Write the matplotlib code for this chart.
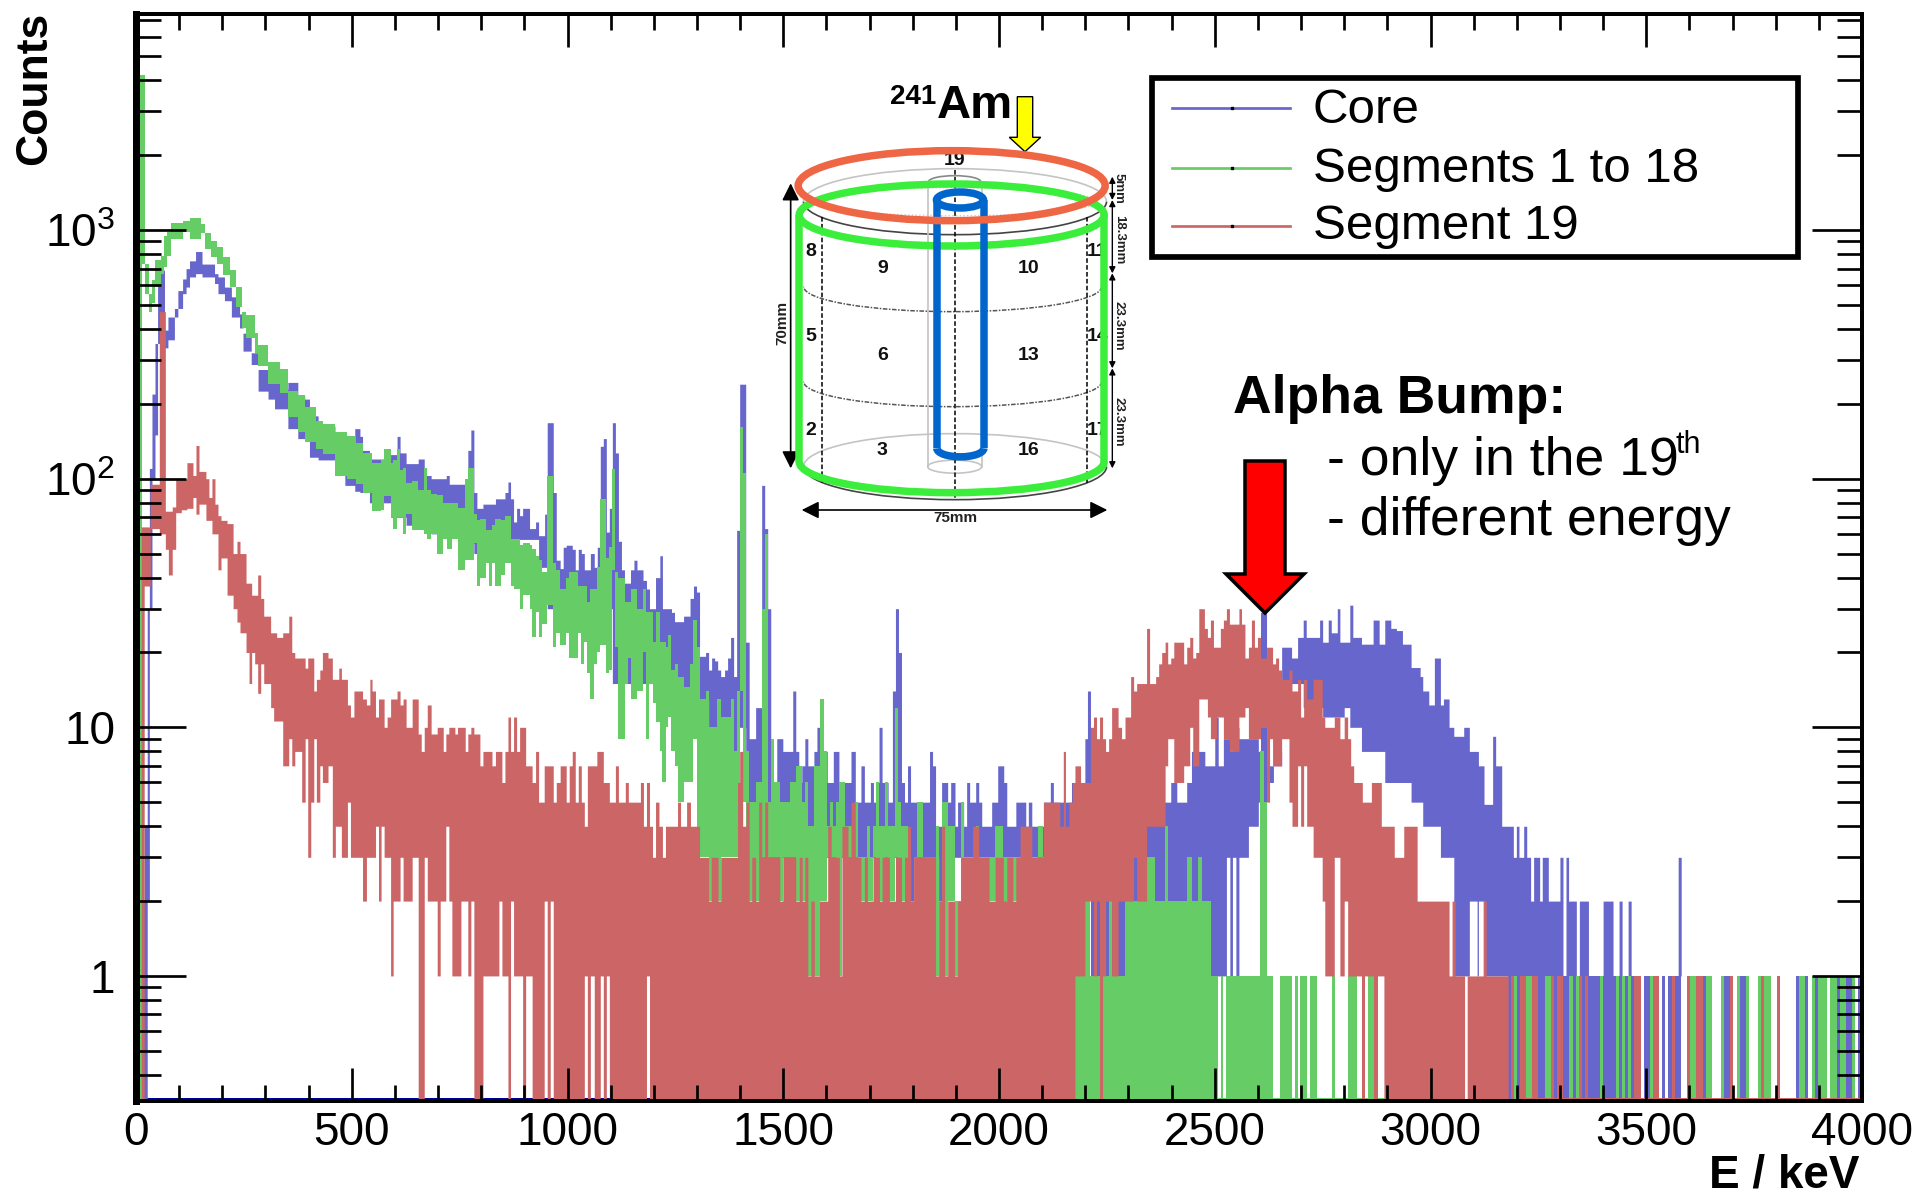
"""Energy spectra of a segmented detector: core, segments 1-18 and segment 19."""

import matplotlib

matplotlib.use("Agg")
import matplotlib.pyplot as plt
import numpy as np
from matplotlib.lines import Line2D
from matplotlib.patches import Arc, Ellipse, Polygon, Rectangle
from matplotlib.ticker import FixedLocator, NullFormatter

plt.rcParams["font.family"] = ["Liberation Sans", "DejaVu Sans"]
plt.rcParams["mathtext.fontset"] = "custom"
plt.rcParams["mathtext.rm"] = "Liberation Sans"

PX = 0.72  # points per pixel at dpi 100
Y_MIN, Y_MAX = 0.314, 7400
COLORS = {"core": "#6666cc", "seg": "#66cc66", "s19": "#cc6666"}

# rows: start energy (keV), upper count, lower count; a row ends where the next starts
CORE = [
    (16, 2, 0), (19, 4, 0), (26, 30, 2), (31, 110, 30), (37, 219, 100), (44, 350, 150), (50, 690, 350),
    (66, 396, 336), (74, 447, 362), (89, 484, 447), (97, 571, 484), (108, 636, 555), (116, 700, 590),
    (124, 752, 648), (138, 820, 668), (153, 730, 648), (182, 668, 610), (190, 648, 555), (205, 590, 520),
    (221, 539, 447), (240, 460, 404), (248, 385, 326), (267, 321, 288), (283, 275, 225), (306, 259, 209),
    (321, 244, 191), (333, 229, 191), (352, 244, 159), (375, 215, 145), (391, 209, 145), (402, 179, 122),
    (422, 163, 119), (461, 154, 103), (484, 149, 94), (507, 159, 89), (519, 148, 88), (525, 130, 88),
    (541, 120, 80), (590, 125, 70), (605, 148, 70), (612, 127, 70), (626, 115, 65), (654, 120, 65),
    (668, 103, 65), (684, 100, 60), (712, 100, 60), (719, 103, 60), (726, 95, 60), (769, 130, 55),
    (776, 157, 55), (783, 88, 50), (790, 76, 50), (804, 79, 62), (833, 83, 55), (855, 88, 55), (862, 97, 55),
    (868, 83, 57), (875, 67, 57), (882, 76, 57), (889, 71, 57), (896, 76, 57), (912, 63, 57), (926, 67, 57),
    (933, 59, 44), (947, 72, 44), (953, 168, 30), (967, 88, 30), (974, 47, 30), (983, 43.5, 30), (990, 53, 30),
    (997, 54, 30), (1011, 52, 30), (1018, 43, 30), (1025, 52, 30), (1032, 50, 30), (1039, 43, 30), (1053, 50, 30),
    (1062, 44, 30), (1069, 53, 30), (1076, 135, 30), (1083, 145, 30), (1090, 61, 30), (1097, 76, 30),
    (1104, 168, 15), (1111, 127, 15), (1118, 56, 15), (1125, 43, 15), (1132, 38, 15), (1146, 43, 15),
    (1154, 47, 15), (1161, 43, 15), (1175, 39, 15), (1183, 36, 15), (1190, 30, 15), (1204, 40, 15), (1214, 49, 15),
    (1220, 30, 15), (1241, 29, 15), (1248, 26.6, 10), (1269, 28, 10), (1284, 33, 10), (1292, 37, 10), (1299, 35, 10),
    (1306, 19.3, 13), (1320, 20, 13), (1327, 17, 10), (1334, 19, 10), (1341, 18.5, 10), (1348, 17, 10),
    (1355, 16, 11), (1364, 17, 11), (1371, 19, 11), (1378, 23, 8), (1385, 16, 8), (1392, 62, 10), (1399, 240, 10),
    (1413, 22, 3), (1421, 9, 3), (1436, 12, 3), (1450, 94, 3), (1457, 63, 3), (1464, 30, 3), (1471, 6, 3),
    (1485, 9, 3), (1499, 8, 3), (1522, 14, 3), (1529, 8, 3), (1536, 6, 3), (1543, 7, 3), (1550, 9, 3), (1557, 7, 3),
    (1571, 8, 3), (1578, 10, 3), (1585, 7, 3), (1595, 8, 3), (1602, 6, 3), (1616, 8, 3), (1629, 6, 3), (1657, 8, 3),
    (1667, 5, 3), (1680, 7, 3), (1688, 5, 3), (1702, 6, 3), (1709, 5, 3), (1715, 6, 3), (1722, 10, 3), (1729, 6, 3),
    (1743, 5, 3), (1753, 14, 3), (1760, 30, 3), (1767, 20, 3), (1774, 6, 3), (1781, 5, 3), (1788, 7, 3), (1795, 5, 2),
    (1802, 5, 3), (1839, 8, 3), (1846, 7, 3), (1853, 4, 3), (1860, 4, 2), (1867, 6, 3), (1881, 5, 3), (1888, 6, 3),
    (1898, 4, 3), (1904, 5, 3), (1911, 5, 3), (1918, 4, 3), (1925, 6, 3), (1932, 5, 3), (1946, 6, 3), (1953, 5, 3),
    (1960, 4, 3), (1983, 5, 3), (1997, 7, 3), (2011, 6, 3), (2018, 4, 3), (2039, 5, 3), (2062, 4, 3), (2068, 5, 3),
    (2076, 4, 3), (2103, 5, 3), (2119, 6, 3), (2126, 5, 3), (2168, 6, 3), (2199, 9, 3), (2205, 14, 3), (2212, 5, 1),
    (2377, 5, 2), (2398, 6, 1), (2412, 5, 1), (2435, 6, 1), (2446, 8, 1), (2477, 7, 1), (2500, 11, 1), (2508, 7, 1),
    (2520, 9, 1), (2527, 9, 3), (2535, 8, 1), (2541, 10, 3), (2549, 10, 1), (2556, 9, 3), (2578, 9, 4), (2601, 8, 5),
    (2606, 29, 5), (2620, 7, 6), (2636, 10, 7), (2641, 8, 7), (2655, 21, 15), (2678, 19, 15), (2692, 23, 15),
    (2705, 27, 12), (2712, 23, 12), (2743, 27, 12), (2750, 22, 11), (2763, 27, 11), (2770, 24, 11), (2784, 30, 11),
    (2790, 22, 11), (2800, 22, 12), (2813, 31, 10), (2820, 23, 10), (2840, 21.6, 8), (2867, 27, 8), (2881, 21.6, 8),
    (2894, 27, 6), (2908, 25, 6), (2921, 24.5, 6), (2935, 21.6, 6), (2955, 17.4, 5), (2976, 16, 5), (2982, 14, 4),
    (2996, 12.3, 4), (3009, 19, 4), (3023, 12.3, 3), (3030, 13, 3), (3043, 10, 3), (3054, 9.2, 1), (3077, 10, 1),
    (3090, 8, 2), (3108, 8, 1), (3111, 7, 2), (3124, 4.9, 1), (3144, 9.2, 1), (3151, 7, 1), (3165, 4, 1), (3192, 3, 1),
    (3199, 4, 1), (3205, 3, 1), (3216, 4, 1), (3223, 3, 1), (3232, 2, 1), (3239, 3, 1), (3253, 2, 1), (3259, 3, 1),
    (3273, 2, 1), (3300, 3, 1), (3307, 1, 1), (3314, 3, 1),
    (3320, 2, 1), (3338, 1, 1), (3345, 2, 1), (3366, 1, 1), (3400, 2, 1), (3423, 1, 1), (3437, 2, 1), (3444, 1, 1),
    (3458, 2, 1), (3465, 1, 1), (3574, 3, 1), (3581, 1, 1), (3997, 1, 1),
]

SEGMENTS = [
    (8, 4200, 0), (15, 4200, 730), (22, 730, 555), (29, 555, 470), (36, 630, 510), (44, 755, 590), (58, 785, 668),
    (66, 950, 710), (71, 980, 790), (81, 1070, 920), (108, 1090, 980), (124, 1122, 920), (151, 1054, 976),
    (160, 976, 840), (174, 907, 780), (188, 853, 730), (201, 780, 658), (217, 688, 590), (232, 590, 492),
    (245, 469, 404), (255, 456, 368), (275, 385, 321), (283, 346, 283), (306, 296, 240), (333, 275, 222),
    (352, 225, 177), (375, 218, 154), (391, 194, 140), (418, 171, 132), (433, 166, 126), (461, 154, 103),
    (490, 148, 100), (511, 139, 95), (525, 127, 88), (547, 116, 74), (568, 119, 75), (575, 132, 85), (590, 116, 70),
    (596, 119, 63), (605, 132, 70), (612, 108, 70), (619, 110, 60), (626, 96, 72), (640, 98, 62), (654, 90, 62),
    (668, 110, 60), (675, 90, 57), (684, 87, 60), (698, 86, 50), (712, 80, 57), (720, 80, 52), (732, 80, 57),
    (746, 76, 43), (763, 100, 47), (769, 110, 47), (783, 72, 55), (790, 68, 37), (797, 69, 40), (811, 62, 46),
    (818, 62, 37), (825, 65, 46), (833, 69, 37), (847, 68, 41), (855, 71, 46), (868, 57, 37), (875, 57, 36),
    (889, 54, 30), (896, 55, 34), (912, 54, 30), (918, 52, 23), (926, 49, 29), (933, 47, 23), (940, 42, 26),
    (953, 103, 31), (967, 46, 21), (974, 43, 24), (983, 36, 21.5), (997, 40, 24), (1004, 42, 19), (1025, 37, 24),
    (1032, 37, 18), (1039, 37, 22), (1046, 32, 16.5), (1053, 36, 13), (1062, 36, 18), (1069, 44, 20), (1076, 83, 21.5),
    (1090, 48, 16.5), (1097, 53, 17), (1104, 109, 43), (1111, 42, 21), (1118, 40, 9), (1133, 32, 15), (1140, 32, 19),
    (1147, 36, 13), (1161, 30, 14), (1175, 36, 20), (1183, 29, 9), (1190, 29, 15), (1197, 22, 12.5), (1204, 29, 10.5),
    (1214, 22, 8), (1220, 22, 6), (1228, 21, 10), (1234, 23.5, 11), (1241, 17, 8), (1248, 18, 7), (1255, 16, 5),
    (1269, 14.5, 6), (1284, 18, 6), (1291, 27, 9), (1299, 21, 3), (1306, 13, 3), (1320, 14, 3), (1327, 10, 2),
    (1347, 13, 2), (1355, 11, 3), (1378, 13, 3), (1385, 8, 3), (1392, 14, 3), (1399, 162, 14), (1406, 105, 5),
    (1413, 8, 4), (1421, 5, 2), (1436, 6, 2), (1450, 30, 3), (1457, 60, 3), (1464, 5, 3), (1471, 9, 3), (1478, 6, 3),
    (1492, 5, 2), (1499, 5, 3), (1515, 6, 3), (1529, 7, 2), (1543, 5, 2), (1550, 6, 2), (1557, 4, 1), (1571, 7, 1),
    (1585, 13, 2), (1595, 8, 2), (1602, 4, 3), (1609, 5, 3), (1616, 4, 3), (1622, 5, 2), (1629, 6, 1), (1636, 6, 3),
    (1643, 4, 3), (1667, 5, 3), (1674, 3, 2), (1695, 4, 2), (1702, 3, 2), (1709, 4, 3), (1715, 6, 2), (1722, 4, 2),
    (1736, 6, 3), (1743, 4, 2), (1760, 12, 3), (1767, 5, 2), (1774, 4, 2), (1788, 3, 3), (1809, 5, 3), (1825, 3, 3),
    (1853, 4, 1), (1860, 3, 3), (1867, 5, 1), (1881, 4, 2), (1898, 2, 1), (1911, 5, 2), (1918, 3, 2), (1946, 4, 1),
    (1953, 3, 2), (1991, 4, 2), (2004, 4, 1), (2010, 3, 1), (2018, 3, 2), (2090, 4, 3), (2103, 3, 2), (2176, 1, 1),
    (2199, 2, 1), (2205, 3, 1), (2212, 1, 1), (2242, 2, 1), (2247, 1, 1), (2254, 2, 1), (2261, 1, 1), (2292, 4, 1),
    (2300, 2, 1), (2334, 3, 1), (2361, 2, 1), (2385, 4, 1), (2391, 2, 1), (2435, 3, 1), (2448, 2, 1), (2462, 3, 1),
    (2470, 2, 1), (2491, 1, 1), (2606, 8, 1), (2613, 5, 1), (2620, 1, 1),
]

SEGMENT_19 = [
    (12, 64, 0), (19, 64, 37), (33, 95, 63), (54, 470, 60), (68, 74, 52), (75, 74, 41), (84, 77, 52), (92, 100, 73),
    (105, 100, 75), (118, 116, 76), (132, 103, 84), (139, 136, 72), (146, 107, 79), (162, 100, 68), (169, 84, 68),
    (176, 100, 60), (183, 79, 60), (190, 71, 43), (197, 68, 48), (211, 66, 34), (225, 50, 30), (234, 56, 26.5),
    (241, 50, 24), (255, 38, 20), (262, 38, 15), (268, 34, 20), (275, 34, 18), (282, 41, 13.7), (289, 33, 18),
    (296, 28, 15), (312, 24, 12), (319, 24, 10.6), (326, 23, 10.6), (340, 24, 7), (354, 28, 9), (361, 20, 7),
    (368, 19, 8), (384, 19, 5), (392, 17.3, 9), (398, 19, 3), (405, 19, 5), (412, 14, 9), (418, 15.6, 5), (426, 17, 7),
    (432, 20, 6), (445, 19, 7), (455, 15.6, 3), (462, 15.6, 4), (470, 17.3, 4), (476, 15.6, 3), (490, 12.3, 5),
    (497, 11, 3), (505, 14, 3), (525, 13, 2), (534, 12.3, 3), (542, 15.6, 3), (547, 14, 3), (555, 11, 4), (562, 13, 2),
    (568, 13, 4), (575, 10, 3), (582, 11, 3), (590, 13, 1), (596, 13, 2), (605, 14, 2), (612, 12.3, 3), (619, 13, 2),
    (626, 10, 2), (640, 13, 3), (654, 9.4, 0), (661, 8, 0), (668, 10, 3), (675, 12.3, 2), (684, 9.4, 2), (698, 10, 1),
    (705, 10, 2), (712, 8, 2), (718, 9.4, 4), (725, 10, 2), (732, 10, 1), (739, 9.4, 1), (745, 10, 1), (753, 10, 2),
    (763, 8, 2), (769, 9.4, 1), (776, 10, 2), (783, 9.4, 0), (797, 7, 0), (804, 8, 1), (825, 7, 1), (833, 8, 1),
    (841, 8, 2), (848, 6, 1), (855, 8, 1), (862, 11, 0), (868, 8, 2), (875, 11, 1), (882, 8, 1), (889, 10, 1),
    (896, 10, 0), (903, 7, 1), (918, 6, 0), (926, 8, 0), (933, 5, 0), (946, 7, 2), (953, 7, 0), (960, 7, 2),
    (967, 5, 0), (974, 6, 0), (983, 7, 0), (997, 5, 0), (1004, 7, 0), (1011, 8, 0), (1018, 5, 0), (1025, 7, 0),
    (1032, 5, 0), (1039, 4, 1), (1046, 7, 0), (1053, 7, 1), (1062, 7, 0), (1068, 8, 0), (1076, 8, 1), (1083, 6, 0),
    (1090, 6, 1), (1097, 5, 0), (1111, 7, 0), (1118, 5, 0), (1134, 6, 0), (1141, 5, 0), (1169, 6, 0), (1176, 4, 0),
    (1183, 6, 1), (1190, 4, 0), (1197, 3, 0), (1204, 5, 0), (1212, 4, 0), (1220, 3, 0), (1227, 4, 0), (1255, 5, 0),
    (1262, 4, 0), (1276, 5, 0), (1285, 4, 0), (1306, 3, 0), (1327, 2, 0), (1333, 3, 0), (1349, 2, 0), (1355, 3, 0),
    (1394, 6, 0), (1399, 8, 0), (1406, 4, 0), (1414, 5, 0), (1421, 2, 0), (1427, 3, 0), (1436, 2, 0), (1443, 5, 0),
    (1450, 3, 0), (1457, 5, 0), (1464, 3, 0), (1492, 2, 0), (1499, 3, 0), (1529, 2, 0), (1537, 3, 0), (1544, 2, 0),
    (1550, 3, 0), (1557, 1, 0), (1564, 2, 0), (1572, 1, 0), (1584, 2, 0), (1603, 4, 0), (1611, 3, 0), (1630, 1, 0),
    (1636, 4, 0), (1650, 3, 0), (1657, 5, 0), (1667, 3, 0), (1680, 2, 0), (1688, 3, 0), (1695, 2, 0), (1708, 3, 0),
    (1723, 2, 0), (1729, 3, 0), (1746, 2, 0), (1760, 3, 0), (1774, 2, 0), (1781, 3, 0), (1788, 4, 0), (1795, 2, 0),
    (1802, 3, 0), (1853, 1, 0), (1860, 2, 0), (1867, 4, 0), (1874, 1, 0), (1881, 2, 0), (1897, 1, 0), (1904, 2, 0),
    (1911, 3, 0), (1939, 4, 0), (1953, 3, 0), (1977, 2, 0), (1991, 3, 0), (2010, 2, 0), (2018, 3, 0), (2032, 2, 0),
    (2039, 3, 0), (2049, 4, 0), (2076, 3, 0), (2103, 5, 0), (2141, 4, 0), (2149, 8, 0), (2154, 4, 0), (2162, 5, 0),
    (2170, 6, 0), (2176, 7, 1), (2189, 6, 1), (2199, 6, 2), (2212, 10, 2), (2219, 11, 1), (2226, 9, 2), (2233, 11, 0),
    (2240, 9, 1), (2247, 8, 2), (2254, 9, 2), (2261, 12, 1), (2276, 10, 2), (2284, 9, 2), (2292, 11, 2), (2305, 16, 2),
    (2312, 14, 3), (2319, 15, 2), (2342, 25, 4), (2349, 15, 4), (2363, 16, 4), (2370, 18, 4), (2377, 20, 4), (2385, 22, 7),
    (2391, 18, 9), (2398, 19, 9), (2405, 22, 6), (2428, 18, 7), (2435, 21, 7), (2442, 23, 10), (2449, 19, 7), (2456, 20, 7),
    (2463, 30, 13), (2476, 25, 13), (2483, 23, 11), (2490, 27, 9), (2497, 21, 9), (2504, 21, 11), (2513, 25, 11),
    (2520, 27, 9), (2527, 30, 9), (2534, 26, 8), (2541, 26, 8), (2556, 30, 11), (2562, 26, 11), (2570, 19, 12),
    (2578, 21, 9), (2585, 27, 9), (2592, 21, 9), (2599, 23, 9), (2606, 19, 10), (2620, 21, 5), (2627, 21, 9),
    (2634, 18, 7), (2641, 19, 7), (2648, 17, 7), (2655, 15.6, 9), (2672, 17, 5), (2679, 14, 4), (2692, 15.6, 7),
    (2699, 11, 4), (2706, 15.6, 7), (2713, 13, 4), (2728, 15.6, 3), (2749, 11, 2), (2755, 10, 1), (2777, 11, 3),
    (2790, 9, 1), (2800, 11, 2), (2808, 9, 1), (2815, 7, 1), (2822, 6, 1), (2842, 5, 1), (2863, 6, 1), (2886, 4, 1),
    (2892, 4, 0), (2916, 3, 0), (2938, 4, 0), (2969, 2, 0), (3043, 1, 0), (3050, 2, 0), (3057, 1, 0), (3079, 0, 0),
    (3085, 1, 0), (3122, 2, 0), (3129, 1, 0), (3180, 0, 0),
]

# single-count stripes reaching down from 1 count to the empty bins
CORE_STRIPES = [
    (3180, 3187), (3201, 3208), (3249, 3266), (3287, 3294), (3307, 3321), (3331, 3338), (3352, 3359), (3366, 3393),
    (3400, 3430), (3437, 3444), (3451, 3458), (3465, 3472), (3495, 3509), (3537, 3544), (3551, 3560), (3567, 3581),
    (3632, 3639), (3681, 3695), (3718, 3732), (3846, 3853), (3869, 3876), (3890, 3897), (3941, 3948), (3962, 3976),
    (3990, 3997),
]
SEGMENT_STRIPES = [
    (2175, 2507), (2514, 2520), (2527, 2634), (2651, 2678), (2686, 2692), (2697, 2713), (2720, 2736), (2771, 2778),
    (2808, 2829), (2855, 2869), (3194, 3201), (3222, 3236), (3266, 3280), (3321, 3331), (3338, 3345), (3393, 3400),
    (3430, 3437), (3444, 3451), (3458, 3465), (3509, 3516), (3602, 3616), (3639, 3653), (3674, 3681), (3711, 3718),
    (3732, 3739), (3760, 3767), (3774, 3790), (3853, 3869), (3883, 3890), (3897, 3918), (3925, 3941), (3948, 3962),
    (3976, 3983),
]
S19_STRIPES = [
    (2841, 2848), (2869, 2878), (3187, 3194), (3208, 3222), (3236, 3249), (3280, 3287), (3294, 3307), (3345, 3352),
    (3359, 3366), (3472, 3488), (3516, 3530), (3560, 3567), (3595, 3602), (3616, 3632), (3695, 3702), (3767, 3774),
    (3804, 3811),
]
# stretches where a series runs along the lower frame at zero counts
CORE_ZERO = (23, 1200)
SEGMENT_ZERO = (2175, 2900)
S19_ZERO = (3205, 4000)

X_MAJOR = [0, 500, 1000, 1500, 2000, 2500, 3000, 3500, 4000]
Y_MAJOR = [1, 10, 100, 1000]
Y_LABELS = ["1", "10", "$10^2$", "$10^3$"]
LEGEND_NAMES = ["Core", "Segments 1 to 18", "Segment 19"]
SEGMENT_LABELS = ["8", "9", "10", "11", "5", "6", "13", "14", "2", "3", "16", "17", "19"]


def draw_series(ax, rows, stripes, color, zorder):
    rows = np.array(rows, dtype=float)
    edges = np.append(rows[:, 0], rows[-1, 0] + 7)
    hi = np.clip(np.append(rows[:, 1], rows[-1, 1]), Y_MIN, None)
    lo = np.clip(np.append(rows[:, 2], rows[-1, 2]), Y_MIN, None)
    ax.fill_between(edges, lo, hi, step="post", color=color, lw=0, antialiased=False, zorder=zorder)
    for e0, e1 in stripes:
        ax.fill_between([e0, e1], Y_MIN, 1, color=color, lw=0, antialiased=False, zorder=zorder)


def ins(zx, zy):
    return 760 + zx / 3, 60 + zy / 3


def draw_detector(ov):
    grey = "#c4c4c4"
    dark = "#444444"
    # outer cylinder and bore
    for cy in (425, 1220):
        cx, py = ins(585, cy)
        ov.add_patch(Arc((cx, py), 303, 66, theta1=180, theta2=360, color=grey, lw=1.2))
        ov.add_patch(Arc((cx, py), 303, 66, theta1=0, theta2=180, color=dark, lw=1.2))
    xa, ya = ins(503, 365)
    xb, yb = ins(665, 1220)
    ov.plot([xa, xa], [ya, yb], color=grey, lw=1.2)
    ov.plot([xb, xb], [ya, yb], color=grey, lw=1.2)
    ov.add_patch(Arc(ins(584, 1220), 54, 13, color=grey, lw=1.2))
    ov.add_patch(Arc(ins(584, 365), 52, 12, theta1=180, theta2=360, color="#888888", lw=1.2))
    # segmentation lines
    for zx, z0, z1 in [(185, 470, 1270), (982, 470, 1270), (584, 330, 1320)]:
        x0, y0 = ins(zx, z0)
        x1, y1 = ins(zx, z1)
        ov.plot([x0, x1], [y0, y1], color="black", lw=1.1, ls=(0, (3, 1.5)))
    for zy in (680, 965):
        ov.add_patch(Arc(ins(578, zy), 298, 50, theta1=0, theta2=180, color="#555555", lw=1.1, ls=(0, (3, 1, 1, 1))))
    ov.add_patch(Ellipse(ins(585, 425), 285, 28, fill=False, ec="#cccccc", lw=1, ls=":"))
    # segment numbers
    spots = [(153, 573), (367, 625), (805, 625), (1012, 573), (153, 828), (367, 887), (805, 887), (1012, 828),
             (153, 1110), (367, 1170), (805, 1170), (1012, 1110), (585, 300)]
    for label, (zx, zy) in zip(SEGMENT_LABELS, spots):
        px, py = ins(zx, zy)
        ov.text(px, py, label, ha="center", va="center", fontsize=14, fontweight="bold", color="#111111", zorder=2)
    # dimensions
    arrow = dict(arrowstyle="<|-|>", color="black", lw=1.2, mutation_scale=26, shrinkA=0, shrinkB=0)
    ov.annotate("", xy=ins(92, 370), xytext=ins(92, 1225), arrowprops=arrow)
    ov.annotate("", xy=ins(125, 1350), xytext=ins(1042, 1350), arrowprops=arrow)
    small = dict(arrowstyle="<|-|>", color="black", lw=1, mutation_scale=9, shrinkA=0, shrinkB=0)
    ticks_z = [350, 420, 640, 925, 1225]
    for z0, z1 in zip(ticks_z[:-1], ticks_z[1:]):
        ov.annotate("", xy=ins(1057, z0), xytext=ins(1057, z1), arrowprops=small)
    for label, zy in [("5mm", 385), ("18.3mm", 540), ("23.3mm", 798), ("23.3mm", 1085)]:
        px, py = ins(1077, zy)
        ov.text(px, py, label, rotation=270, ha="center", va="center", fontsize=9.5, fontweight="bold", color="#222222")
    px, py = ins(68, 790)
    ov.text(px, py, "70mm", rotation=90, ha="center", va="center", fontsize=11, fontweight="bold", color="#222222")
    px, py = ins(585, 1375)
    ov.text(px, py, "75mm", ha="center", va="center", fontsize=11, fontweight="bold", color="#222222")
    # highlighted contacts
    thick = 7.5 * PX
    green = "#3cee3c"
    blue = "#0066cc"
    ov.add_patch(Ellipse(ins(575, 465), 305, 62, fill=False, ec=green, lw=thick, zorder=4))
    left = ins(118, 465)
    right = ins(1032, 465)
    bottom = ins(118, 1205)[1]
    ov.plot([left[0], left[0]], [left[1], bottom], color=green, lw=thick, zorder=4, solid_capstyle="butt")
    ov.plot([right[0], right[0]], [right[1], bottom], color=green, lw=thick, zorder=4, solid_capstyle="butt")
    ov.add_patch(Arc(ins(575, 1205), 305, 62, theta1=0, theta2=180, color=green, lw=thick, zorder=4))
    ov.add_patch(Ellipse(ins(600, 420), 47, 16, fill=False, ec=blue, lw=thick, zorder=5))
    top_b = ins(530, 420)
    top_c = ins(672, 420)
    bot_b = ins(530, 1165)[1]
    ov.plot([top_b[0], top_b[0]], [top_b[1], bot_b], color=blue, lw=thick, zorder=5, solid_capstyle="butt")
    ov.plot([top_c[0], top_c[0]], [top_c[1], bot_b], color=blue, lw=thick, zorder=5, solid_capstyle="butt")
    ov.add_patch(Arc(ins(601, 1165), 47, 17, theta1=0, theta2=180, color=blue, lw=thick, zorder=5))
    ov.add_patch(Ellipse(ins(575, 377), 307, 70, fill=False, ec="#ee6644", lw=thick, zorder=6))


fig = plt.figure(figsize=(19.12, 11.95), dpi=100)
ax = fig.add_axes([136 / 1912, 1 - 1101 / 1195, (1862 - 136) / 1912, (1101 - 14) / 1195])

draw_series(ax, CORE, CORE_STRIPES, COLORS["core"], 2.0)
draw_series(ax, SEGMENTS, SEGMENT_STRIPES, COLORS["seg"], 2.2)
draw_series(ax, SEGMENT_19, S19_STRIPES, COLORS["s19"], 2.4)
ax.plot(CORE_ZERO, [Y_MIN, Y_MIN], color="#000099", lw=6 * PX, zorder=1.9, solid_capstyle="butt")
ax.plot(SEGMENT_ZERO, [Y_MIN, Y_MIN], color=COLORS["seg"], lw=6 * PX, zorder=2.2, solid_capstyle="butt")
ax.plot(S19_ZERO, [Y_MIN, Y_MIN], color=COLORS["s19"], lw=6 * PX, zorder=2.4, solid_capstyle="butt")

ax.set_xlim(0, 4000)
ax.set_yscale("log")
ax.set_ylim(Y_MIN, Y_MAX)
ax.set_axisbelow(False)
ax.set_xticks(X_MAJOR)
ax.xaxis.set_minor_locator(FixedLocator([v for v in range(100, 4000, 100) if v % 500]))
ax.set_yticks(Y_MAJOR)
ax.set_yticklabels(Y_LABELS)
y_minor = [m * d for d in (0.1, 1, 10, 100, 1000) for m in range(2, 10)]
ax.yaxis.set_minor_locator(FixedLocator(y_minor))
ax.yaxis.set_minor_formatter(NullFormatter())
ax.tick_params(axis="x", which="major", direction="in", top=True, length=33 * PX, width=2.7 * PX, labelsize=33, pad=7.5)
ax.tick_params(axis="x", which="minor", direction="in", top=True, length=16 * PX, width=2.7 * PX)
ax.tick_params(axis="y", which="major", direction="in", right=True, length=50 * PX, width=2.7 * PX, labelsize=33, pad=15)
ax.tick_params(axis="y", which="minor", direction="in", right=True, length=25 * PX, width=2.7 * PX)
ax.spines["left"].set_linewidth(7 * PX)
for side in ("top", "bottom", "right"):
    ax.spines[side].set_linewidth(4 * PX)

# everything placed by eye goes on a pixel overlay
ov = fig.add_axes([0, 0, 1, 1], facecolor="none")
ov.set_xlim(0, 1912)
ov.set_ylim(1195, 0)
ov.axis("off")

ov.text(14, 88, "Counts", rotation=90, ha="left", va="center", fontsize=32, fontweight="bold")
ov.text(1860, 1188, "E / keV", ha="right", va="baseline", fontsize=33, fontweight="bold")

# legend box
ov.add_patch(Rectangle((1152, 78), 646, 179, fill=False, ec="black", lw=5.7 * PX))
for name, key, py, base in zip(LEGEND_NAMES, ["core", "seg", "s19"], [108, 168, 226], [123, 182, 239]):
    ov.add_line(Line2D([1172, 1290], [py, py], color=COLORS[key], lw=2.7 * PX))
    ov.plot([1232], [py], marker="s", ms=1.6, color="black")
    ov.text(1313, base, name, ha="left", va="baseline", fontsize=35.5)

# alpha bump note
ov.text(1233, 413, "Alpha Bump:", ha="left", va="baseline", fontsize=38.5, fontweight="bold")
ov.text(1327, 475, "- only in the 19", ha="left", va="baseline", fontsize=38.5)
ov.text(1676, 453, "th", ha="left", va="baseline", fontsize=22)
ov.text(1327, 535, "- different energy", ha="left", va="baseline", fontsize=38.5)
ov.add_patch(Polygon([(1245, 461), (1285, 461), (1285, 574), (1304, 574), (1265, 613), (1226, 574), (1245, 574)],
                     closed=True, fc="#ff0000", ec="black", lw=3.5 * PX, joinstyle="miter"))

# source label and arrow
ov.text(890, 104, "241", ha="left", va="baseline", fontsize=20, fontweight="bold")
ov.text(937, 118, "Am", ha="left", va="baseline", fontsize=34, fontweight="bold")
ov.add_patch(Polygon([(1017.3, 96.7), (1032.7, 96.7), (1032.7, 137.3), (1040.7, 137.3), (1025, 151.7), (1009.3, 137.3),
                      (1017.3, 137.3)], closed=True, fc="#ffff00", ec="black", lw=1))

draw_detector(ov)

fig.savefig("out.png", dpi=100)
